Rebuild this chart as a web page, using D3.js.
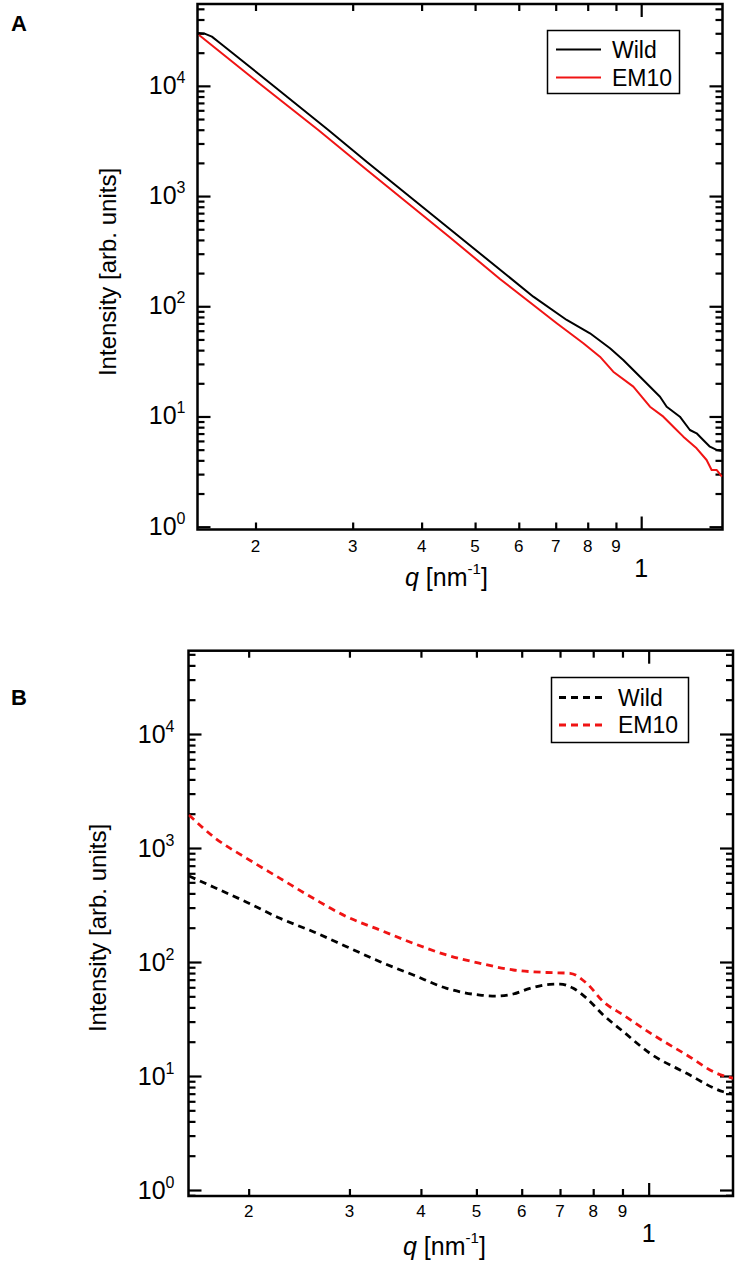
<!DOCTYPE html>
<html>
<head>
<meta charset="utf-8">
<script src="https://cdn.jsdelivr.net/npm/d3@7"></script>
<style>
  html, body { margin: 0; padding: 0; background: #fff; }
  svg { display: block; font-family: "Liberation Sans", Arial, Helvetica, sans-serif; }
</style>
</head>
<body>
<svg id="chart" width="739" height="1271"></svg>
<script>
// ---------------- DATA ----------------
const seriesNames = ["Wild", "EM10"];

// Panel A (solid lines)
const qA_wild = [0.1573, 0.1613, 0.1667, 0.1724, 0.2124, 0.2710, 0.3184, 0.4504, 0.6376, 0.7329, 0.8076, 0.878, 0.9279, 0.9952, 1.0817, 1.1123, 1.1753, 1.2254, 1.2602, 1.2954, 1.3322, 1.3698, 1.4006];
const IA_wild = [30200, 29900, 27960, 24510, 10620, 3980, 2039, 500, 122.2, 75.1, 56.9, 41.6, 32.6, 22.97, 15.12, 12.27, 9.96, 7.54, 7.04, 6.12, 5.32, 4.97, 4.86];
const qA_em10 = [0.1580, 0.2038, 0.2599, 0.3184, 0.4504, 0.5547, 0.6376, 0.7029, 0.7855, 0.8418, 0.8899, 0.9677, 1.0373, 1.0968, 1.1436, 1.1922, 1.2602, 1.3139, 1.3417, 1.3698, 1.4006];
const IA_em10 = [28960, 10400, 3980, 1725, 421, 177, 102.8, 70.1, 46.2, 34.9, 25.5, 18.64, 12.27, 9.96, 8.08, 6.56, 5.14, 4.03, 3.27, 3.27, 2.84];

// Panel B (dashed lines)
const qB_wild = [0.1573, 0.1735, 0.1984, 0.2269, 0.2594, 0.2967, 0.3393, 0.3880, 0.4437, 0.5073, 0.5425, 0.5800, 0.6203, 0.6722, 0.7001, 0.7385, 0.7794, 0.8330, 0.9029, 1.0053, 1.1653, 1.3502, 1.404];
const IB_wild = [568, 455, 335, 241.7, 184.4, 136.2, 100.6, 76.9, 58.8, 51.3, 50.3, 52.4, 58.8, 63.7, 64.1, 58.8, 48.0, 34.3, 24.5, 15.82, 10.56, 7.28, 6.95];
const qB_em10 = [0.1573, 0.1747, 0.1984, 0.2269, 0.2594, 0.2967, 0.3393, 0.3880, 0.4437, 0.5073, 0.5800, 0.6635, 0.7288, 0.7794, 0.8330, 0.9029, 1.0188, 1.1653, 1.3149, 1.404];
const IB_em10 = [1948, 1224, 812, 542, 362, 249.7, 190.9, 145.9, 115.2, 97.4, 85.1, 80.9, 79.6, 65.0, 44.9, 34.3, 22.9, 15.29, 10.56, 9.55];

// Axes
const xDomain = [0.157, 1.404];
const xMinorTicks = [0.2, 0.3, 0.4, 0.5, 0.6, 0.7, 0.8, 0.9];
const xMinorLabels = ["2", "3", "4", "5", "6", "7", "8", "9"];
const xMajorTicks = [1];
const xMajorLabels = ["1"];
const yMajorTicks = [1, 10, 100, 1000, 10000];
const yExponentLabels = ["0", "1", "2", "3", "4"];
const yDomainA = [0.943, 55300];
const yDomainB = [0.886, 53800];

// ---------------- DRAW ----------------
const svg = d3.select("#chart");
const RED = "#f01414";

function zip(q, I) { return q.map((v, i) => ({ q: v, I: I[i] })); }

function drawPanel(cfg) {
  const g = svg.append("g");
  const x = d3.scaleLog().domain(xDomain).range([cfg.left, cfg.right]);
  const y = d3.scaleLog().domain(cfg.yDomain).range([cfg.bottom, cfg.top]);

  // minor y ticks
  const yMinor = [];
  for (let e = -1; e <= 5; e++) {
    for (let m = 2; m <= 9; m++) {
      const v = m * Math.pow(10, e);
      if (v >= cfg.yDomain[0] && v <= cfg.yDomain[1]) yMinor.push(v);
    }
  }

  const minorLen = 7, majorLen = 13;
  function addAxis(axisGen, transform, values, len) {
    const a = g.append("g").attr("transform", transform)
      .call(axisGen.tickValues(values).tickSize(-len).tickFormat(""));
    a.select(".domain").remove();
    a.selectAll(".tick line").attr("stroke", "#000").attr("stroke-width", 2.2);
  }
  addAxis(d3.axisBottom(x), `translate(0,${cfg.bottom})`, xMinorTicks, minorLen);
  addAxis(d3.axisBottom(x), `translate(0,${cfg.bottom})`, xMajorTicks, majorLen);
  addAxis(d3.axisTop(x), `translate(0,${cfg.top})`, xMinorTicks, minorLen);
  addAxis(d3.axisTop(x), `translate(0,${cfg.top})`, xMajorTicks, majorLen);
  addAxis(d3.axisLeft(y), `translate(${cfg.left},0)`, yMinor, minorLen);
  addAxis(d3.axisLeft(y), `translate(${cfg.left},0)`, yMajorTicks, majorLen);
  addAxis(d3.axisRight(y), `translate(${cfg.right},0)`, yMinor, minorLen);
  addAxis(d3.axisRight(y), `translate(${cfg.right},0)`, yMajorTicks, majorLen);

  // frame
  g.append("rect")
    .attr("x", cfg.left).attr("y", cfg.top)
    .attr("width", cfg.right - cfg.left).attr("height", cfg.bottom - cfg.top)
    .attr("fill", "none").attr("stroke", "#000").attr("stroke-width", 2.5);

  // clip
  const clipId = "clip" + cfg.id;
  svg.append("clipPath").attr("id", clipId).append("rect")
    .attr("x", cfg.left).attr("y", cfg.top)
    .attr("width", cfg.right - cfg.left).attr("height", cfg.bottom - cfg.top);

  const line = d3.line().x(d => x(d.q)).y(d => y(d.I)).curve(cfg.curve);
  cfg.series.forEach(s => {
    g.append("path").datum(zip(s.q, s.I))
      .attr("clip-path", `url(#${clipId})`)
      .attr("d", line)
      .attr("fill", "none")
      .attr("stroke", s.color)
      .attr("stroke-width", s.width)
      .attr("stroke-dasharray", s.dash || null)
      .attr("stroke-linejoin", "round");
  });

  // y tick labels
  yMajorTicks.forEach((v, i) => {
    const t = g.append("text")
      .attr("x", cfg.left - cfg.yLabelGap)
      .attr("y", y(v) + cfg.yLabelDy)
      .attr("text-anchor", "end")
      .attr("font-size", 25);
    t.append("tspan").text("10");
    t.append("tspan").attr("font-size", 16).attr("dy", -11).text(yExponentLabels[i]);
  });

  // x tick labels
  xMinorTicks.forEach((v, i) => {
    g.append("text").attr("x", x(v)).attr("y", cfg.xMinorLabelY)
      .attr("text-anchor", "middle").attr("font-size", 17).text(xMinorLabels[i]);
  });
  xMajorTicks.forEach((v, i) => {
    g.append("text").attr("x", x(v)).attr("y", cfg.xMajorLabelY)
      .attr("text-anchor", "middle").attr("font-size", 25).text(xMajorLabels[i]);
  });

  // x axis title
  const xt = g.append("text").attr("x", cfg.xTitleX).attr("y", cfg.xTitleY)
    .attr("font-size", 25).attr("text-anchor", "start");
  xt.append("tspan").attr("font-style", "italic").text("q");
  xt.append("tspan").text(" [nm");
  xt.append("tspan").attr("font-size", 15).attr("dy", -12).text("-1");
  xt.append("tspan").attr("dy", 12).text("]");

  // y axis title
  g.append("text")
    .attr("transform", `translate(${cfg.yTitleX},${cfg.yTitleY}) rotate(-90)`)
    .attr("text-anchor", "middle").attr("font-size", 24)
    .text("Intensity [arb. units]");

  // panel letter
  g.append("text").attr("x", 11).attr("y", cfg.letterY)
    .attr("font-size", 22).attr("font-weight", "bold").text(cfg.letter);

  // legend
  const L = cfg.legend;
  g.append("rect").attr("x", L.x0).attr("y", L.y0)
    .attr("width", L.x1 - L.x0).attr("height", L.y1 - L.y0)
    .attr("fill", "#fff").attr("stroke", "#000").attr("stroke-width", 1.5);
  cfg.series.forEach((s, i) => {
    const ly = L.rowY[i];
    g.append("line").attr("x1", L.lineX0).attr("x2", L.lineX1)
      .attr("y1", ly).attr("y2", ly)
      .attr("stroke", s.color).attr("stroke-width", s.width)
      .attr("stroke-dasharray", s.dash || null);
    g.append("text").attr("x", L.textX).attr("y", ly + 8)
      .attr("font-size", 23).text(seriesNames[i]);
  });
}

drawPanel({
  id: "A", letter: "A", letterY: 31,
  left: 197.5, right: 722.5, top: 4, bottom: 529.5,
  yDomain: yDomainA, curve: d3.curveLinear,
  yLabelGap: 12, yLabelDy: 8,
  xMinorLabelY: 552, xMajorLabelY: 577,
  xTitleX: 405, xTitleY: 586,
  yTitleX: 116, yTitleY: 272,
  series: [
    { q: qA_wild, I: IA_wild, color: "#000", width: 2 },
    { q: qA_em10, I: IA_em10, color: RED, width: 2 }
  ],
  legend: { x0: 547.5, y0: 30.5, x1: 679.5, y1: 93.5, rowY: [49.5, 77.5], lineX0: 556, lineX1: 601, textX: 612 }
});

drawPanel({
  id: "B", letter: "B", letterY: 705,
  left: 188.5, right: 733, top: 650.7, bottom: 1196,
  yDomain: yDomainB, curve: d3.curveMonotoneX,
  yLabelGap: 14, yLabelDy: 9,
  xMinorLabelY: 1217, xMajorLabelY: 1242,
  xTitleX: 403, xTitleY: 1255,
  yTitleX: 106, yTitleY: 928,
  series: [
    { q: qB_wild, I: IB_wild, color: "#000", width: 2.8, dash: "7,5" },
    { q: qB_em10, I: IB_em10, color: RED, width: 2.8, dash: "7,5" }
  ],
  legend: { x0: 551.5, y0: 677.5, x1: 688.5, y1: 742.5, rowY: [697.5, 725], lineX0: 559, lineX1: 604, textX: 618 }
});
</script>
</body>
</html>
